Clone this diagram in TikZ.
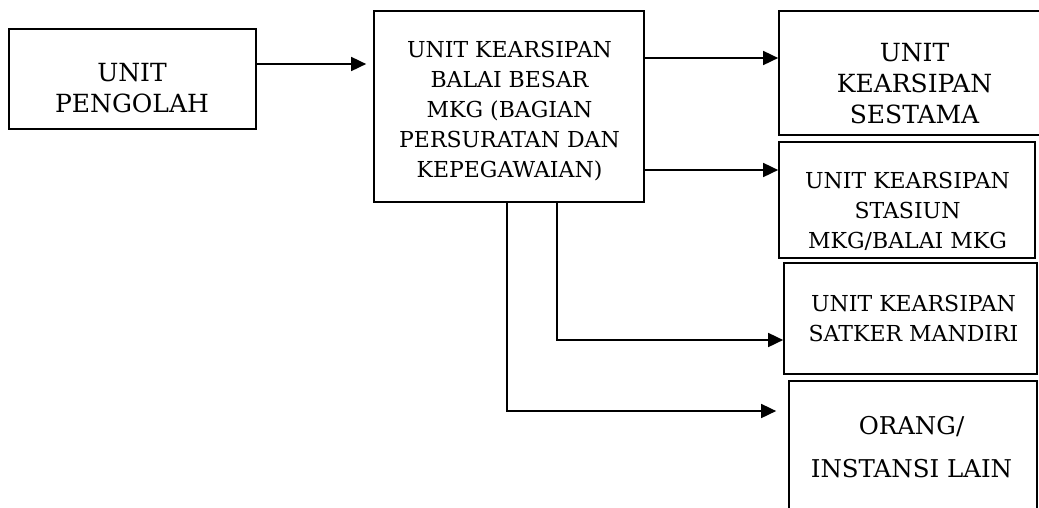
\documentclass[tikz,border=0pt]{standalone}
\usepackage{fontspec}
\setmainfont{DejaVu Serif}
\usetikzlibrary{arrows.meta}
\begin{document}
\begin{tikzpicture}[x=1pt,y=-1pt,
  box/.style={draw,line width=1.7pt,inner sep=0pt},
  lbl/.style={align=center,font=\fontsize{22}{30}\selectfont,inner sep=0pt},
  big/.style={font=\fontsize{25}{31}\selectfont},
  arr/.style={line width=1.7pt,-{Triangle[length=15pt,width=14pt]}}]
\useasboundingbox (0,0) rectangle (1039,507);
\clip (0,0) rectangle (1039,507);
% boxes
\node[box,minimum width=247pt,minimum height=100pt] (pengolah) at (132.5,79) {};
\node[box,minimum width=270pt,minimum height=191pt] (main) at (509,106.5) {};
\node[box,minimum width=266pt,minimum height=124pt] (sestama) at (912,73) {};
\node[box,minimum width=256pt,minimum height=116pt] (stasiun) at (907,200) {};
\node[box,minimum width=253pt,minimum height=111pt] (satker) at (910.5,318.5) {};
\node[box,minimum width=248pt,minimum height=159pt] (orang) at (913,460.5) {};
% labels
\node[lbl,big] (tpengolah) at (132,88) {UNIT\\PENGOLAH};
\node[lbl] (tmain) at (509.5,111) {UNIT KEARSIPAN\\BALAI BESAR\\MKG (BAGIAN\\PERSURATAN DAN\\KEPEGAWAIAN)};
\node[lbl,big] (tsestama) at (914.5,84) {UNIT\\KEARSIPAN\\SESTAMA};
\node[lbl] (tstasiun) at (907.5,211) {UNIT KEARSIPAN\\STASIUN\\MKG/BALAI MKG};
\node[lbl] (tsatker) at (913.5,318.5) {UNIT KEARSIPAN\\SATKER MANDIRI};
\node[lbl,font=\fontsize{24.5}{43}\selectfont] (torang) at (911.5,447.5) {ORANG/\\INSTANSI LAIN};
% helper coordinates
\coordinate (y0) at (0,64);
\coordinate (ya) at (0,58);
\coordinate (yb) at (0,170);
\coordinate (yc) at (0,340);
\coordinate (yd) at (0,411);
\coordinate (xr) at (557,0);
\coordinate (xl) at (507,0);
% connectors
\draw[arr,shorten >=7pt] (pengolah.east |- y0) -- (main.west |- y0);
\draw[arr] (main.east |- ya) -- (sestama.west |- ya);
\draw[arr] (main.east |- yb) -- (stasiun.west |- yb);
\draw[arr] (main.south -| xr) |- (satker.west |- yc);
\draw[arr,shorten >=12pt] (main.south -| xl) |- (orang.west |- yd);
\end{tikzpicture}
\end{document}
